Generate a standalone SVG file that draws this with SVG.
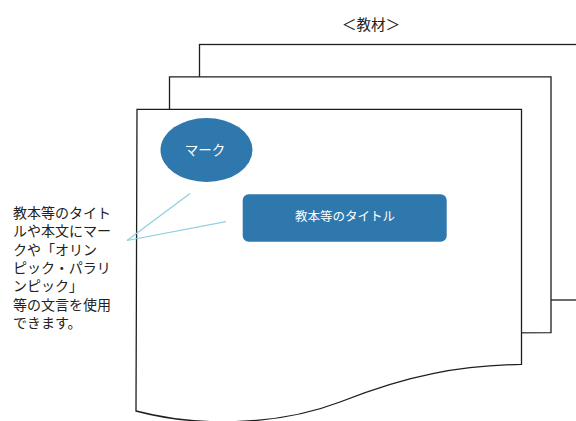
<svg xmlns="http://www.w3.org/2000/svg" width="576" height="421" viewBox="0 0 576 421">
<style>
.page{fill:#fff;stroke:#1e1e1e;stroke-width:1.3;stroke-linejoin:miter}
.blue{fill:#2f78ae}
.wt{fill:#fff;font-family:"Noto Sans CJK JP","Noto Sans",sans-serif}
.bk{fill:#222;font-family:"Noto Sans CJK JP","Noto Sans",sans-serif}
.conn{stroke:#8fcfe0;stroke-width:1.2;fill:none}
</style>
<rect width="576" height="421" fill="#fff"/>
<g id="heading"><text class="bk" x="371" y="30" font-size="14.5" text-anchor="middle">＜教材＞</text></g>
<g id="page-back"><rect class="page" x="199.5" y="44.5" width="400" height="255.5"/></g>
<g id="page-middle"><path class="page" d="M169.5,334 V76.8 H551 V332.7 Z"/></g>
<g id="page-front"><path class="page" d="M137,109.3 H521.5 V364.3 C460,366 410,374 340,402 C280,425 200,428 136,411 Z"/></g>
<g id="mark"><ellipse class="blue" cx="206.5" cy="150" rx="46" ry="32"/><text class="wt" x="205" y="155" font-size="13.5" text-anchor="middle">マーク</text></g>
<g id="title-box"><rect class="blue" x="242.7" y="194.3" width="204" height="47.4" rx="6"/><text class="wt" x="345" y="221" font-size="12.5" text-anchor="middle">教本等のタイトル</text></g>
<g id="connectors"><line class="conn" x1="190" y1="193.5" x2="127" y2="240.5"/><line class="conn" x1="226" y1="221.7" x2="127" y2="240.5"/></g>
<g id="note">
<text class="bk" font-size="14" x="13">
<tspan x="13" y="218">教本等のタイト</tspan>
<tspan x="13" y="236.3">ルや本文にマー</tspan>
<tspan x="13" y="254.6">クや「オリン</tspan>
<tspan x="13" y="272.9">ピック・パラリ</tspan>
<tspan x="13" y="291.2">ンピック」</tspan>
<tspan x="13" y="309.5">等の文言を使用</tspan>
<tspan x="13" y="327.8">できます。</tspan>
</text>
</g>
</svg>
